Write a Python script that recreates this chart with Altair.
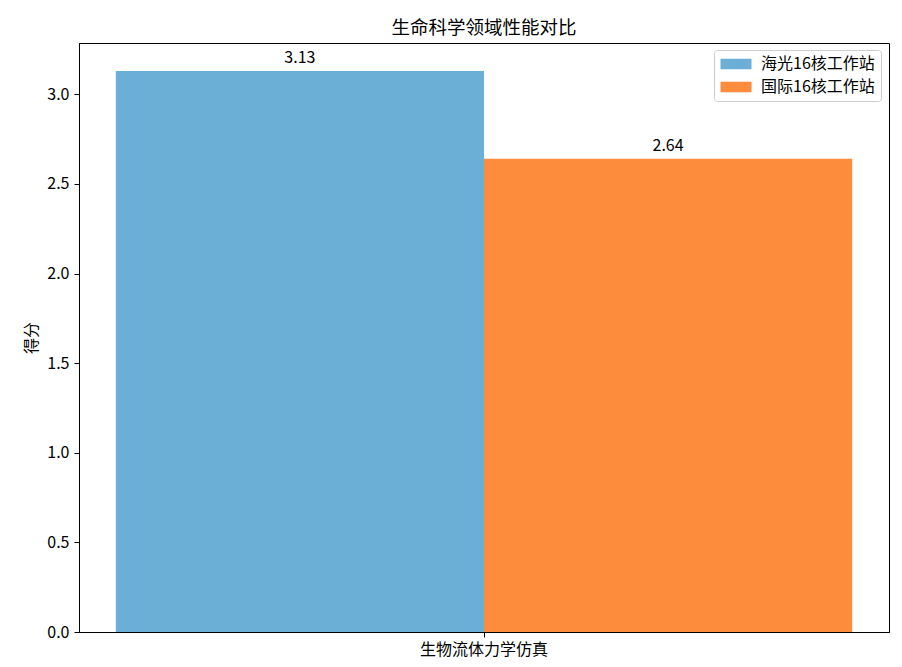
import altair as alt
import pandas as pd

categories = ["生物流体力学仿真"]
series = ["海光16核工作站", "国际16核工作站"]
scores = [[3.13], [2.64]]
colors = ["#6baed6", "#fd8d3c"]

rows = []
for s, vals in zip(series, scores):
    for c, v in zip(categories, vals):
        rows.append({"category": c, "series": s, "score": v, "label": f"{v:.2f}"})
source = pd.DataFrame(rows)

FONT = "Noto Sans CJK SC"

base = alt.Chart(source).encode(
    x=alt.X("category:N", title=None,
            scale=alt.Scale(paddingOuter=0.05, paddingInner=0),
            axis=alt.Axis(labelAngle=0, labelFontSize=16, labelPadding=4,
                          tickSize=5, tickColor="black", domainColor="black",
                          labelColor="black")),
    xOffset=alt.XOffset("series:N", sort=series,
                        scale=alt.Scale(paddingInner=0, paddingOuter=0)),
)

bars = base.mark_bar(opacity=1).encode(
    y=alt.Y("score:Q", title="得分",
            scale=alt.Scale(domain=[0, 3.2865], nice=False),
            axis=alt.Axis(values=[0, 0.5, 1.0, 1.5, 2.0, 2.5, 3.0], format=".1f",
                          grid=False, labelFontSize=16, titleFontSize=16,
                          titleFontWeight="normal", tickSize=5, labelPadding=5,
                          tickColor="black", domainColor="black",
                          labelColor="black", titleColor="black",
                          titlePadding=7)),
    color=alt.Color("series:N", sort=series,
                    scale=alt.Scale(domain=series, range=colors),
                    legend=alt.Legend(title=None, orient="none", legendX=635, legendY=7,
                                      labelFontSize=16, labelColor="black",
                                      symbolType="M-1.94,-0.66H1.94V0.66H-1.94Z",
                                      symbolSize=256, symbolStrokeWidth=0,
                                      symbolOpacity=1, symbolOffset=8,
                                      rowPadding=7, labelOffset=17,
                                      fillColor="white", strokeColor="#cccccc",
                                      cornerRadius=3, padding=6)),
)

text = base.mark_text(baseline="bottom", dy=-5, fontSize=16, font=FONT,
                      color="black").encode(
    y=alt.Y("score:Q"),
    text="label:N",
)

chart = (bars + text).properties(
    width=810,
    height=589,
    title=alt.TitleParams("生命科学领域性能对比", fontSize=18.5, fontWeight="normal",
                          font=FONT, color="black", offset=6),
    autosize=alt.AutoSizeParams(type="none"),
    padding={"left": 71, "top": 35, "right": 5, "bottom": 30},
).configure(
    font=FONT,
).configure_view(
    stroke="black",
    strokeWidth=1,
).configure_axis(
    labelFont=FONT,
    titleFont=FONT,
).configure_legend(
    labelFont=FONT,
)

chart.save("out.html", embed_options={"renderer": "svg", "actions": False})
